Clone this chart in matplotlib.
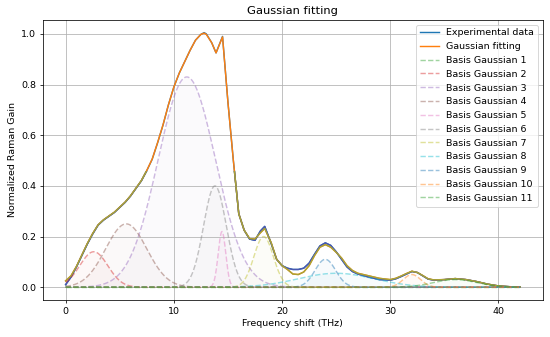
import numpy as np
import matplotlib
matplotlib.use("Agg")
import matplotlib.pyplot as plt
from matplotlib.patches import Rectangle

# ---- data ----
freq = [0, 0.5, 1, 1.5, 2, 2.5, 3, 3.5, 4, 4.5, 5, 5.5, 6, 6.5, 7, 7.5, 8, 8.5, 9, 9.5,
        10, 10.5, 11, 11.5, 12, 12.5, 12.8, 13, 13.5, 13.9, 14.5, 15, 15.5, 16, 16.5, 17,
        17.5, 18, 18.4, 19, 19.5, 20, 20.5, 21, 21.5, 22, 22.5, 23, 23.5, 24, 24.5, 25,
        25.5, 26, 26.5, 27, 28, 29, 30, 30.5, 31, 31.5, 32, 32.5, 33, 33.5, 34, 35, 36,
        37, 38, 39, 40, 41, 42]
experimental = [0.01, 0.04, 0.08, 0.125, 0.17, 0.21, 0.245, 0.265, 0.28, 0.295, 0.315, 0.335,
                0.36, 0.39, 0.42, 0.46, 0.505, 0.57, 0.64, 0.72, 0.79, 0.845, 0.89, 0.935,
                0.975, 0.998, 1.005, 1.0, 0.965, 0.925, 0.99, 0.73, 0.5, 0.29, 0.225, 0.19,
                0.185, 0.222, 0.24, 0.172, 0.11, 0.085, 0.075, 0.07, 0.07, 0.075, 0.095, 0.13,
                0.163, 0.175, 0.165, 0.14, 0.11, 0.08, 0.062, 0.052, 0.04, 0.03, 0.028, 0.033,
                0.042, 0.052, 0.062, 0.058, 0.045, 0.032, 0.028, 0.03, 0.034, 0.03, 0.022,
                0.012, 0.005, 0.002, 0.001]
fitting = [0.025, 0.045, 0.082, 0.127, 0.172, 0.212, 0.246, 0.266, 0.281, 0.296, 0.316, 0.336,
           0.361, 0.391, 0.421, 0.461, 0.506, 0.571, 0.641, 0.72, 0.79, 0.845, 0.89, 0.935,
           0.975, 0.998, 1.003, 0.998, 0.965, 0.925, 0.988, 0.73, 0.5, 0.29, 0.225, 0.192,
           0.19, 0.215, 0.232, 0.175, 0.11, 0.085, 0.07, 0.052, 0.05, 0.06, 0.085, 0.125,
           0.158, 0.168, 0.158, 0.138, 0.115, 0.085, 0.066, 0.055, 0.045, 0.035, 0.03, 0.035,
           0.044, 0.054, 0.063, 0.058, 0.046, 0.033, 0.029, 0.03, 0.034, 0.03, 0.022,
           0.012, 0.005, 0.002, 0.001]

# basis gaussians: amplitude, centre (THz), standard deviation (THz)
g_amp = [0.0, 0.14, 0.83, 0.25, 0.22, 0.40, 0.20, 0.055, 0.11, 0.05, 0.03]
g_center = [20.0, 2.6, 11.2, 5.6, 14.45, 13.8, 18.3, 25.0, 24.0, 32.0, 36.0]
g_sigma = [1.0, 1.3, 2.65, 1.9, 0.35, 1.05, 0.9, 3.5, 0.95, 0.8, 2.0]
g_labels = [f"Basis Gaussian {i + 1}" for i in range(len(g_amp))]

# ---- figure ----
dpi = 550 / 8.0
fig, ax = plt.subplots(figsize=(8, 337 / dpi), dpi=dpi)
fig.subplots_adjust(left=0.078, right=0.987, top=0.941, bottom=0.110)

l_exp, = ax.plot(freq, experimental, color="C0", lw=1.5, label="Experimental data")
l_fit, = ax.plot(freq, fitting, color="C1", lw=1.5, label="Gaussian fitting")

# lower part of the curves appears tinted in the reference
clip = Rectangle((-5, -1), 60, 1.46, transform=ax.transData)
e2, = ax.plot(freq, experimental, color="#4a56b0", lw=1.5)
f2, = ax.plot(freq, fitting, color="#a9a436", lw=1.5)
e2.set_clip_path(clip)
f2.set_clip_path(clip)

xs = np.linspace(0, 42, 800)
for i, (a, c, s) in enumerate(zip(g_amp, g_center, g_sigma)):
    col = f"C{(i + 2) % 10}"
    ys = a * np.exp(-(xs - c) ** 2 / (2 * s ** 2))
    ax.plot(xs, ys, ls="--", color=col, alpha=0.45, lw=1.5, label=g_labels[i])
    ax.fill_between(xs, 0, ys, color=col, alpha=0.03, lw=0)

ax.set_title("Gaussian fitting")
ax.set_xlabel("Frequency shift (THz)")
ax.set_ylabel("Normalized Raman Gain")
ax.grid(True)
ax.legend(loc="upper right")

fig.savefig("out.png", dpi=dpi)
